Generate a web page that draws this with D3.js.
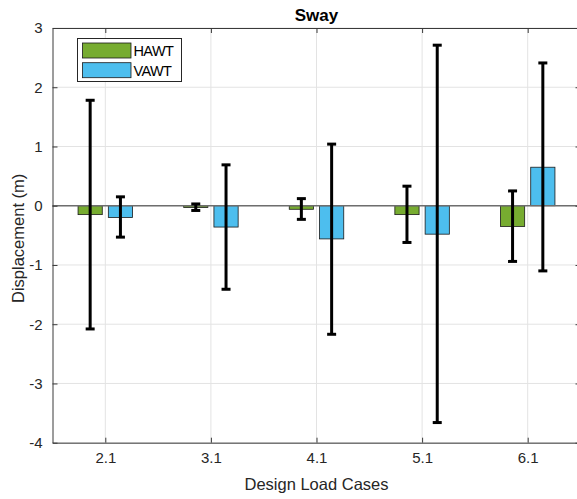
<!DOCTYPE html>
<html>
<head>
<meta charset="utf-8">
<script src="https://cdn.jsdelivr.net/npm/d3@7"></script>
<style>
  html, body { margin: 0; padding: 0; background: #fff; }
  svg { display: block; font-family: Arial, "Liberation Sans", Helvetica, sans-serif; }
</style>
</head>
<body>
<svg id="chart" width="577" height="499"></svg>
<script>
// ---- data ----
const categories = ["2.1", "3.1", "4.1", "5.1", "6.1"];
const seriesNames = ["HAWT", "VAWT"];
const hawtMean = [-0.15, -0.03, -0.06, -0.15, -0.35];
const vawtMean = [-0.20, -0.36, -0.56, -0.48, 0.65];
const hawtLow  = [-2.08, -0.08, -0.23, -0.62, -0.94];
const hawtHigh = [1.78, 0.03, 0.12, 0.33, 0.25];
const vawtLow  = [-0.53, -1.41, -2.17, -3.66, -1.10];
const vawtHigh = [0.15, 0.69, 1.04, 2.71, 2.41];
const yTicks = [-4, -3, -2, -1, 0, 1, 2, 3];
const titleText = "Sway";
const xLabel = "Design Load Cases";
const yLabel = "Displacement (m)";

// ---- layout / style ----
const colors = { HAWT: "#77AC30", VAWT: "#4DBEEE" };
const plot = { left: 52.5, right: 580.5, top: 28, bottom: 442.7 };
const axisColor = "#3a3a3a";
const gridColor = "#e3e3e3";

const svg = d3.select("#chart");

const x = d3.scalePoint().domain(categories).range([plot.left, plot.right]).padding(0.5);
const step = x.step();
const sub = d3.scaleBand().domain(seriesNames)
  .range([-step * 0.258, step * 0.258]).paddingInner(0.2);
const y = d3.scaleLinear().domain([-4, 3]).range([plot.bottom, plot.top]);

const rows = [];
categories.forEach((c, i) => {
  rows.push({ cat: c, s: "HAWT", v: hawtMean[i], lo: hawtLow[i], hi: hawtHigh[i] });
  rows.push({ cat: c, s: "VAWT", v: vawtMean[i], lo: vawtLow[i], hi: vawtHigh[i] });
});

// grid
const grid = svg.append("g");
grid.selectAll("line.gy").data(yTicks).join("line")
  .attr("x1", plot.left).attr("x2", plot.right)
  .attr("y1", d => y(d)).attr("y2", d => y(d))
  .attr("stroke", gridColor).attr("stroke-width", 1);
grid.selectAll("line.gx").data(categories).join("line")
  .attr("x1", d => x(d)).attr("x2", d => x(d))
  .attr("y1", plot.top).attr("y2", plot.bottom)
  .attr("stroke", gridColor).attr("stroke-width", 1);

// bars
svg.append("g").selectAll("rect").data(rows).join("rect")
  .attr("x", d => x(d.cat) + sub(d.s))
  .attr("width", sub.bandwidth())
  .attr("y", d => Math.min(y(d.v), y(0)))
  .attr("height", d => Math.abs(y(d.v) - y(0)))
  .attr("fill", d => colors[d.s])
  .attr("stroke", "#1a1a1a").attr("stroke-width", 0.8);

// baseline
svg.append("line")
  .attr("x1", plot.left).attr("x2", plot.right)
  .attr("y1", y(0)).attr("y2", y(0))
  .attr("stroke", "#6e6e6e").attr("stroke-width", 1.3);

// error bars
const eb = svg.append("g").attr("stroke", "#000").attr("stroke-width", 3);
const capW = 4.5;
rows.forEach(d => {
  const cx = x(d.cat) + sub(d.s) + sub.bandwidth() / 2;
  eb.append("line").attr("x1", cx).attr("x2", cx).attr("y1", y(d.lo)).attr("y2", y(d.hi));
  eb.append("line").attr("x1", cx - capW).attr("x2", cx + capW).attr("y1", y(d.lo)).attr("y2", y(d.lo));
  eb.append("line").attr("x1", cx - capW).attr("x2", cx + capW).attr("y1", y(d.hi)).attr("y2", y(d.hi));
});

// axes
const axB = svg.append("g").attr("transform", `translate(0,${plot.bottom})`)
  .call(d3.axisBottom(x).tickSizeInner(-5).tickSizeOuter(0).tickPadding(10));
const axT = svg.append("g").attr("transform", `translate(0,${plot.top})`)
  .call(d3.axisTop(x).tickSizeInner(-5).tickSizeOuter(0).tickFormat(""));
const axL = svg.append("g").attr("transform", `translate(${plot.left},0)`)
  .call(d3.axisLeft(y).tickValues(yTicks).tickFormat(d3.format("d")).tickSizeInner(-5).tickSizeOuter(0).tickPadding(10));
const axR = svg.append("g").attr("transform", `translate(${plot.right},0)`)
  .call(d3.axisRight(y).tickValues(yTicks).tickSizeInner(-5).tickSizeOuter(0).tickFormat(""));
[axB, axT, axL, axR].forEach(a => {
  a.selectAll("path.domain").attr("stroke", axisColor).attr("stroke-width", 1);
  a.selectAll(".tick line").attr("stroke", axisColor).attr("stroke-width", 1);
  a.selectAll("text").attr("fill", "#262626").style("font-size", "15px")
    .style("font-family", "Arial, 'Liberation Sans', sans-serif");
});
axL.selectAll("text").text(d => d < 0 ? "-" + Math.abs(d) : d);

// title and labels
svg.append("text").attr("x", (plot.left + plot.right) / 2).attr("y", 20.5)
  .attr("text-anchor", "middle").style("font-size", "17px").style("font-weight", "bold")
  .attr("fill", "#000").text(titleText);
svg.append("text").attr("x", (plot.left + plot.right) / 2).attr("y", 490)
  .attr("text-anchor", "middle").style("font-size", "16.5px").attr("fill", "#262626").text(xLabel);
svg.append("text").attr("transform", `translate(24,${(plot.top + plot.bottom) / 2 + 3}) rotate(-90)`)
  .attr("text-anchor", "middle").style("font-size", "16.5px").attr("fill", "#262626").text(yLabel);

// legend
const lg = svg.append("g").attr("transform", "translate(77.5,38.5)");
lg.append("rect").attr("width", 104).attr("height", 43)
  .attr("fill", "#fff").attr("stroke", "#262626").attr("stroke-width", 1);
seriesNames.forEach((s, i) => {
  const row = lg.append("g").attr("transform", `translate(5,${4.5 + i * 19.7})`);
  row.append("rect").attr("width", 48.5).attr("height", 15)
    .attr("fill", colors[s]).attr("stroke", "#1a1a1a").attr("stroke-width", 0.8);
  row.append("text").attr("x", 51).attr("y", 12.8).style("font-size", "14.5px")
    .style("letter-spacing", "-0.6px").attr("fill", "#000").text(s);
});
</script>
</body>
</html>
